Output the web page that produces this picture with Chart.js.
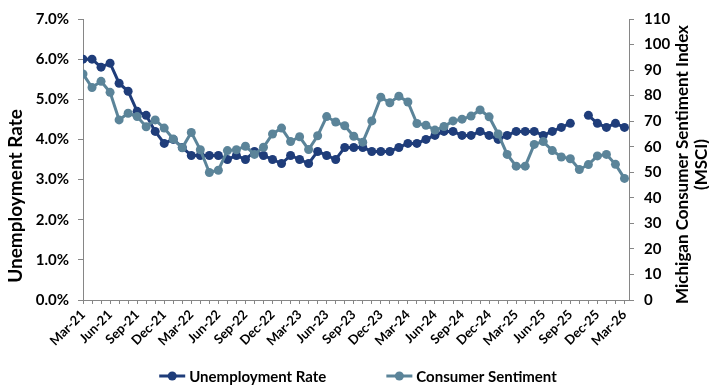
<!DOCTYPE html>
<html>
<head>
<meta charset="utf-8">
<script src="https://cdn.jsdelivr.net/npm/chart.js@4.4.1/dist/chart.umd.min.js"></script>
<style>
  html, body { margin: 0; padding: 0; background: #fff; }
  #wrap { width: 709px; height: 385px; position: relative; }
</style>
</head>
<body>
<div id="wrap"><canvas id="c" width="709" height="385"></canvas></div>
<script>
// Monthly observations, Mar-21 through Mar-26
const months = [
  'Mar-21','Apr-21','May-21','Jun-21','Jul-21','Aug-21','Sep-21','Oct-21','Nov-21','Dec-21',
  'Jan-22','Feb-22','Mar-22','Apr-22','May-22','Jun-22','Jul-22','Aug-22','Sep-22','Oct-22',
  'Nov-22','Dec-22','Jan-23','Feb-23','Mar-23','Apr-23','May-23','Jun-23','Jul-23','Aug-23',
  'Sep-23','Oct-23','Nov-23','Dec-23','Jan-24','Feb-24','Mar-24','Apr-24','May-24','Jun-24',
  'Jul-24','Aug-24','Sep-24','Oct-24','Nov-24','Dec-24','Jan-25','Feb-25','Mar-25','Apr-25',
  'May-25','Jun-25','Jul-25','Aug-25','Sep-25','Oct-25','Nov-25','Dec-25','Jan-26','Feb-26',
  'Mar-26'
];

// Unemployment rate, percent (no reading for Oct-25)
const unemploymentRate = [
  6.0, 6.0, 5.8, 5.9, 5.4, 5.2, 4.7, 4.6, 4.2, 3.9,
  4.0, 3.8, 3.6, 3.6, 3.6, 3.6, 3.5, 3.6, 3.5, 3.7,
  3.6, 3.5, 3.4, 3.6, 3.5, 3.4, 3.7, 3.6, 3.5, 3.8,
  3.8, 3.8, 3.7, 3.7, 3.7, 3.8, 3.9, 3.9, 4.0, 4.1,
  4.2, 4.2, 4.1, 4.1, 4.2, 4.1, 4.0, 4.1, 4.2, 4.2,
  4.2, 4.1, 4.2, 4.3, 4.4, null, 4.6, 4.4, 4.3, 4.4,
  4.3
];

// University of Michigan consumer sentiment index
const consumerSentiment = [
  88.5, 83.2, 85.6, 81.3, 70.5, 73.1, 71.8, 67.8, 70.5, 67.3,
  63.0, 59.6, 65.6, 58.8, 49.9, 50.8, 58.5, 58.8, 60.2, 57.0,
  59.8, 65.0, 67.3, 62.0, 63.9, 58.9, 64.3, 71.8, 69.7, 68.2,
  64.1, 61.8, 70.1, 79.4, 77.2, 79.8, 77.5, 69.1, 68.4, 66.5,
  67.9, 70.1, 70.8, 72.0, 74.4, 71.7, 65.0, 57.0, 52.4, 52.4,
  60.9, 62.0, 58.5, 56.0, 55.3, 51.1, 53.0, 56.4, 57.0, 53.1,
  47.6
];

const leftTicks = [0, 1, 2, 3, 4, 5, 6, 7];          // percent
const rightTicks = [0, 10, 20, 30, 40, 50, 60, 70, 80, 90, 100, 110];
const leftTitle = 'Unemployment Rate';
const rightTitle = ['Michigan Consumer Sentiment Index', '(MSCI)'];
const seriesNames = ['Unemployment Rate', 'Consumer Sentiment'];

const DARK = '#1F3D7A';
const LIGHT = '#5B8499';
const AXIS = '#868686';
const FONT = 'Lato';

const toPoints = arr => arr.map((v, i) => ({ x: i, y: v }));

// Axis titles (both read bottom-to-top) and the line+marker legend
const overlay = {
  id: 'overlay',
  afterDraw(chart) {
    const ctx = chart.ctx;
    const area = chart.chartArea;
    ctx.save();
    ctx.fillStyle = '#000';
    ctx.textAlign = 'center';
    ctx.textBaseline = 'middle';
    const vert = (txt, x, y) => {
      ctx.save();
      ctx.translate(x, y);
      ctx.rotate(-Math.PI / 2);
      ctx.fillText(txt, 0, 0);
      ctx.restore();
    };
    ctx.font = `bold 19px ${FONT}`;
    vert(leftTitle, 16, 196);
    ctx.font = `bold 17px ${FONT}`;
    const midY = (area.top + area.bottom) / 2 + 5;
    vert(rightTitle[0], 683, midY);
    vert(rightTitle[1], 702, midY);

    // legend
    ctx.font = `bold 15px ${FONT}`;
    ctx.textAlign = 'left';
    const sample = 26, gap = 4, between = 60;
    const ds = chart.data.datasets;
    const order = [1, 0];
    const widths = order.map(i => ctx.measureText(ds[i].label).width);
    const total = order.length * (sample + gap) + widths.reduce((a, b) => a + b, 0) + between;
    let x = 358 - total / 2;
    const y = 376;
    order.forEach((i, k) => {
      const d = ds[i];
      ctx.strokeStyle = d.borderColor;
      ctx.lineWidth = 3;
      ctx.beginPath();
      ctx.moveTo(x, y);
      ctx.lineTo(x + sample, y);
      ctx.stroke();
      ctx.fillStyle = d.borderColor;
      ctx.beginPath();
      ctx.arc(x + sample / 2, y, 4.5, 0, Math.PI * 2);
      ctx.fill();
      ctx.fillStyle = '#000';
      ctx.fillText(d.label, x + sample + gap, y + 1);
      x += sample + gap + widths[k] + between;
    });
    ctx.restore();
  }
};

new Chart(document.getElementById('c'), {
  type: 'line',
  data: {
    datasets: [
      {
        label: seriesNames[1],
        data: toPoints(consumerSentiment),
        yAxisID: 'y2',
        borderColor: LIGHT,
        backgroundColor: LIGHT,
        borderWidth: 3,
        pointRadius: 4.5,
        pointBorderWidth: 0,
        pointBackgroundColor: LIGHT,
        tension: 0,
        order: 0
      },
      {
        label: seriesNames[0],
        data: toPoints(unemploymentRate),
        yAxisID: 'y',
        borderColor: DARK,
        backgroundColor: DARK,
        borderWidth: 3,
        pointRadius: 4.5,
        pointBorderWidth: 0,
        pointBackgroundColor: DARK,
        spanGaps: false,
        tension: 0,
        order: 1
      }
    ]
  },
  options: {
    responsive: false,
    animation: false,
    devicePixelRatio: 1,
    layout: { padding: { top: 15, left: 0, right: 0, bottom: 0 } },
    plugins: {
      legend: { display: false },
      tooltip: { enabled: false }
    },
    scales: {
      x: {
        type: 'linear',
        min: 0,
        max: months.length - 0.5,
        afterBuildTicks(scale) {
          scale.ticks = months.map((m, i) => ({ value: i }));
        },
        afterFit(scale) { scale.height = 85; },
        grid: {
          display: true, drawOnChartArea: false, drawTicks: true,
          tickLength: 4, color: AXIS
        },
        border: { display: true, color: AXIS, width: 1 },
        ticks: {
          autoSkip: false,
          minRotation: 45,
          maxRotation: 45,
          padding: 3,
          color: '#000',
          font: { family: FONT, size: 13, weight: 'bold' },
          callback: v => (v % 3 === 0 ? months[v] : '')
        }
      },
      y: {
        position: 'left',
        min: leftTicks[0],
        max: leftTicks[leftTicks.length - 1],
        afterBuildTicks(scale) { scale.ticks = leftTicks.map(v => ({ value: v })); },
        afterFit(scale) { scale.width = 83; },
        grid: {
          display: true, drawOnChartArea: false, drawTicks: true,
          tickLength: 5, color: AXIS
        },
        border: { display: true, color: AXIS, width: 1 },
        ticks: {
          padding: 9,
          color: '#000',
          font: { family: FONT, size: 15, weight: 'bold' },
          callback: v => v.toFixed(1) + '%'
        }
      },
      y2: {
        position: 'right',
        min: rightTicks[0],
        max: rightTicks[rightTicks.length - 1],
        afterBuildTicks(scale) { scale.ticks = rightTicks.map(v => ({ value: v })); },
        afterFit(scale) { scale.width = 80; },
        grid: {
          display: true, drawOnChartArea: false, drawTicks: true,
          tickLength: 5, color: AXIS
        },
        border: { display: true, color: AXIS, width: 1 },
        ticks: {
          padding: 10,
          color: '#000',
          font: { family: FONT, size: 15, weight: 'bold' }
        }
      }
    }
  },
  plugins: [overlay]
});
</script>
</body>
</html>
